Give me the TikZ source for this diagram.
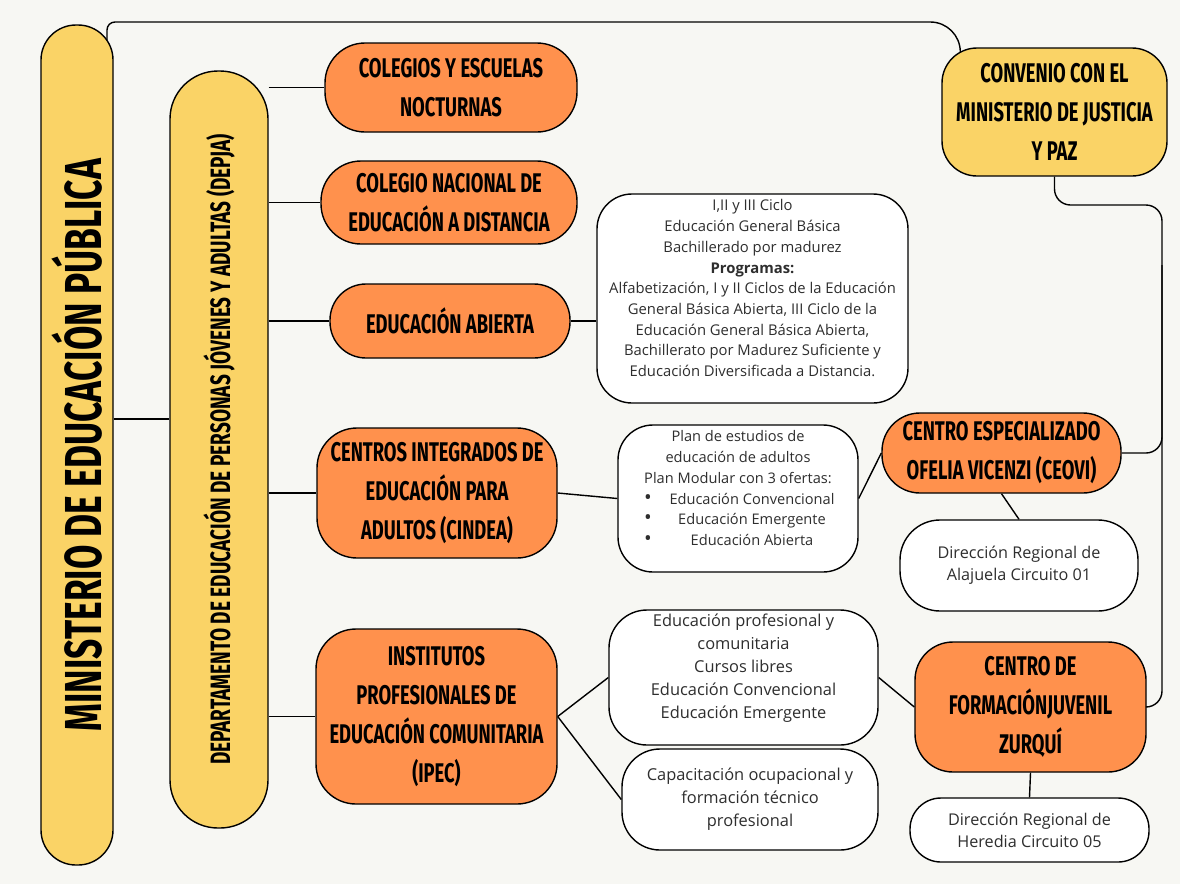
\documentclass[tikz,border=0pt]{standalone}
\usepackage{fontspec}
\usepackage{graphicx}
\setmainfont{Open Sans}
\newfontfamily\handfont[FakeStretch=0.68]{Fira Sans}
\usetikzlibrary{calc}
\definecolor{paper}{HTML}{F7F7F3}
\definecolor{sun}{HTML}{FAD366}
\definecolor{tangerine}{HTML}{FF914D}
\definecolor{ink}{HTML}{2E2E2E}
\tikzset{link/.style={line width=1.4pt, black}}
\tikzset{pillbox/.style={draw=black, line width=1.4pt, fill=sun, inner sep=0pt}}
\tikzset{hotbox/.style={draw=black, line width=1.4pt, fill=tangerine, inner sep=0pt, align=center,
  font=\handfont\bfseries\fontsize{27}{39}\selectfont}}
\tikzset{infobox/.style={draw=black, line width=1.4pt, fill=white, inner sep=0pt, align=center, text=ink}}
\newcommand{\oferta}[1]{\makebox[190pt][l]{\makebox[28pt][l]{\hspace{1pt}\scalebox{1.4}{\textbullet}}\makebox[162pt][c]{#1}}}

\begin{document}
\begin{tikzpicture}[x=1pt,y=-1pt]
      \useasboundingbox (0,0) rectangle (1180,884);
      \fill [paper] (0,0) rectangle (1180,884);
      \node [pillbox, minimum width=72pt, minimum height=840pt, rounded corners=35pt] (min) at (77,445)
        {\rotatebox{90}{\handfont\bfseries\fontsize{52}{52}\selectfont MINISTERIO DE EDUCACIÓN PÚBLICA}};
      \node [pillbox, minimum width=98pt, minimum height=757pt, rounded corners=48pt] (dep) at (219,449.5)
        {\rotatebox{90}{\handfont\bfseries\fontsize{28}{28}\selectfont DEPARTAMENTO DE EDUCACIÓN DE PERSONAS JÓVENES Y ADULTAS (DEPJA)}};
      \node [hotbox, minimum width=252pt, minimum height=89pt, rounded corners=40pt] (col) at (451,87.5) {COLEGIOS Y ESCUELAS\\NOCTURNAS};
      \node [hotbox, minimum width=256pt, minimum height=83pt, rounded corners=40pt] (nac) at (449,202.5) {COLEGIO NACIONAL DE\\EDUCACIÓN A DISTANCIA};
      \node [hotbox, minimum width=240pt, minimum height=74pt, rounded corners=36pt] (abi) at (450,321) {EDUCACIÓN ABIERTA};
      \node [hotbox, minimum width=240pt, minimum height=130pt, rounded corners=40pt] (cin) at (437,493) {CENTROS INTEGRADOS DE\\EDUCACIÓN PARA\\ADULTOS (CINDEA)};
      \node [hotbox, minimum width=241pt, minimum height=175pt, rounded corners=40pt] (ipe) at (436.5,716.5) {INSTITUTOS\\PROFESIONALES DE\\EDUCACIÓN COMUNITARIA\\(IPEC)};
      \node [hotbox, fill=sun, minimum width=225pt, minimum height=128pt, rounded corners=35pt] (conv) at (1054.5,112) {CONVENIO CON EL\\MINISTERIO DE JUSTICIA\\Y PAZ};
      \node [hotbox, minimum width=239pt, minimum height=80pt, rounded corners=38pt] (ceo) at (1001.5,453) {CENTRO ESPECIALIZADO\\OFELIA VICENZI (CEOVI)};
      \node [hotbox, minimum width=231pt, minimum height=130pt, rounded corners=38pt] (zur) at (1030.5,707) {CENTRO DE\\FORMACIÓNJUVENIL\\ZURQUÍ};
      \node [infobox, minimum width=311pt, minimum height=209pt, rounded corners=35pt, font=\fontsize{14.8}{20.7}\selectfont] (prog) at (752.5,298.5)
        {I,II y III Ciclo\\Educación General Básica\\Bachillerado por madurez\\\textbf{Programas:}\\Alfabetización, I y II Ciclos de la Educación\\General Básica Abierta, III Ciclo de la\\Educación General Básica Abierta,\\Bachillerato por Madurez Suficiente y\\Educación Diversificada a Distancia.\\\mbox{}};
      \node [infobox, minimum width=240pt, minimum height=147pt, rounded corners=35pt, font=\fontsize{14.6}{20.7}\selectfont] (plan) at (738,498.5)
        {Plan de estudios de\\educación de adultos\\Plan Modular con 3 ofertas:\\\oferta{Educación Convencional}\\\oferta{Educación Emergente}\\\oferta{Educación Abierta}\\\mbox{}};
      \node [infobox, minimum width=238pt, minimum height=91pt, rounded corners=40pt, font=\fontsize{16.2}{22}\selectfont] (alaj) at (1019,565.5) {Dirección Regional de\\Alajuela Circuito 01};
      \node [infobox, minimum width=269pt, minimum height=135pt, rounded corners=38pt, font=\fontsize{16.4}{23}\selectfont] (prof) at (743.5,677.5)
        {Educación profesional y\\comunitaria\\Cursos libres\\Educación Convencional\\Educación Emergente\\\mbox{}};
      \node [infobox, minimum width=256pt, minimum height=101pt, rounded corners=38pt, font=\fontsize{16.4}{23}\selectfont] (cap) at (750,799.5) {Capacitación ocupacional y\\formación técnico\\profesional};
      \node [infobox, minimum width=239pt, minimum height=64pt, rounded corners=31pt, font=\fontsize{16.2}{22}\selectfont] (her) at (1029.5,830) {Dirección Regional de\\Heredia Circuito 05};
      \coordinate (roof) at (500,22);
      \coordinate (bus) at (1162,205);
      \draw [link] ([yshift=26pt]min.east) -- ([yshift=26pt]min.east -| dep.west);
      \draw [link] (dep.east |- col.west) -- (col.west);
      \draw [link] (dep.east |- nac.west) -- (nac.west);
      \draw [link] (dep.east |- abi.west) -- (abi.west);
      \draw [link] (dep.east |- cin.west) -- (cin.west);
      \draw [link] (dep.east |- ipe.west) -- (ipe.west);
      \draw [link] (abi.east) -- (abi.east -| prog.west);
      \draw [link] (cin.east) -- (plan.west);
      \draw [link] (plan.east) -- (ceo.west);
      \draw [link] (ceo.south) -- (alaj.north);
      \draw [link] (ipe.east) -- (prof.west);
      \draw [link] (ipe.east) -- (cap.west);
      \draw [link] (prof.east) -- (zur.west);
      \draw [link] (zur.south) -- (her.north);
      \draw [link, rounded corners=8pt] ([xshift=30pt,yshift=-16pt]min.north) |- (roof) [rounded corners=30pt] -| ([xshift=19pt,yshift=-4pt]conv.north west);
      \draw [link, rounded corners=16pt] (conv.south) |- (bus) -- (bus |- zur.east) -- (zur.east);
      \draw [link, rounded corners=16pt] (ceo.east) -| ([yshift=-60pt]bus);
\end{tikzpicture}
\end{document}
